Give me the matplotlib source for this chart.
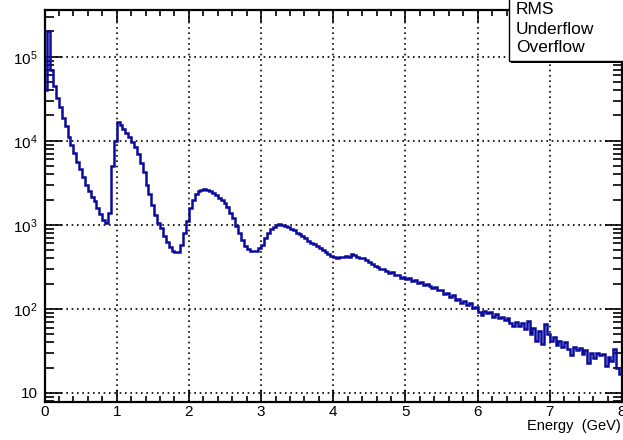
import numpy as np
import matplotlib
matplotlib.use("Agg")
import matplotlib.pyplot as plt
from matplotlib.ticker import FixedLocator, FuncFormatter, LogLocator, MultipleLocator, NullFormatter
from matplotlib.patches import Rectangle

# ---------------- data ----------------
x_min, x_max = 0.0, 8.0
y_min, y_max = 7.8, 3.6e5
counts = [
    40000, 200000, 70000, 45000, 32000, 25000, 18600, 14800, 11200, 8900,
    7100, 5600, 4600, 3700, 3000, 2500, 2140, 1900, 1600, 1350,
    1150, 1050, 1400, 5000, 10000, 16600, 15500, 13800, 12300, 11000,
    9800, 8500, 6900, 5500, 4200, 3000, 2300, 1700, 1300, 1050,
    910, 740, 630, 550, 490, 480, 480, 575, 800, 1120,
    1580, 2000, 2300, 2500, 2630, 2700, 2630, 2500, 2400, 2240,
    2100, 1950, 1820, 1620, 1400, 1200, 980, 800, 660, 560,
    510, 490, 490, 490, 525, 575, 690, 800, 890, 955,
    1000, 1020, 1000, 980, 930, 890, 870, 810, 780, 740,
    690, 645, 615, 590, 560, 525, 500, 480, 455, 425,
    410, 400, 415, 410, 425, 415, 455, 435, 410, 400,
    400, 380, 365, 345, 325, 315, 295, 300, 280, 270,
    275, 250, 255, 235, 240, 225, 230, 215, 220, 205,
    210, 195, 200, 185, 178, 182, 166, 170, 151, 155,
    138, 145, 126, 132, 117, 123, 112, 117, 102, 105,
    93, 85, 95, 89, 93, 81, 87, 78, 81, 74,
    78, 68, 62, 69, 63, 68, 58, 71, 50, 60,
    42, 55, 38, 66, 50, 42, 46, 37, 42, 35,
    40, 33, 28, 35, 32, 34, 29, 32, 23, 30,
    26, 30, 28, 29, 21, 27, 24, 33, 20, 17,
]
x_major = [0, 1, 2, 3, 4, 5, 6, 7, 8]
y_major = [10, 100, 1000, 10000, 100000]
stats_labels = ["RMS", "Underflow", "Overflow"]
x_title = "Energy  (GeV)"

# ---------------- style ----------------
plt.rcParams['font.family'] = ['Liberation Sans', 'DejaVu Sans']
plt.rcParams['mathtext.default'] = 'regular'

W, H = 623, 440
fig = plt.figure(figsize=(W / 100, H / 100), dpi=100)
ax_l, ax_r, ax_b, ax_t = 44.5, 622, 402, 10
ax = fig.add_axes([ax_l / W, (H - ax_b) / H, (ax_r - ax_l) / W, (ax_b - ax_t) / H])

edges = np.linspace(x_min, x_max, len(counts) + 1)
ax.stairs(counts, edges, baseline=None, color='#0a0a9c', lw=1.8, zorder=3)

ax.set_yscale('log')
ax.set_xlim(x_min, x_max)
ax.set_ylim(y_min, y_max)

ax.xaxis.set_major_locator(FixedLocator(x_major))
ax.xaxis.set_minor_locator(MultipleLocator(0.2))
ax.yaxis.set_major_locator(FixedLocator(y_major))
ax.yaxis.set_minor_locator(LogLocator(base=10, subs=np.arange(2, 10)))
ax.yaxis.set_minor_formatter(NullFormatter())


def yfmt(v, pos):
    e = int(round(np.log10(v)))
    if e == 1:
        return '10'
    return r'$10^{%d}$' % e


ax.yaxis.set_major_formatter(FuncFormatter(yfmt))
ax.xaxis.set_major_formatter(FuncFormatter(lambda v, p: '%d' % v))

ax.tick_params(axis='both', which='both', direction='in', top=True, right=True, width=1.2)
ax.tick_params(axis='x', which='major', length=8.6, labelsize=11, pad=2.5)
ax.tick_params(axis='x', which='minor', length=4.3)
ax.tick_params(axis='y', which='major', length=12, labelsize=11, pad=5)
ax.tick_params(axis='y', which='minor', length=6.5)

for s in ax.spines.values():
    s.set_linewidth(1.6)
    s.set_color('black')

ax.grid(True, which='major', color='black', linestyle=(0, (1, 2.2)), lw=1.2)

fig.text(621 / W, 1 - 426 / H, x_title, ha='right', va='center', fontsize=10.5)

# stats box (partially outside the figure)
bx0, by1 = 509, 61
shadow = Rectangle(((bx0 + 2) / W, 1 - (by1 + 2) / H), 200 / W, (by1 + 20) / H,
                   transform=fig.transFigure, facecolor='black', edgecolor='none', zorder=9)
box = Rectangle((bx0 / W, 1 - by1 / H), 200 / W, (by1 + 20) / H,
                transform=fig.transFigure, facecolor='white', edgecolor='black', lw=1.0, zorder=10)
fig.patches.extend([shadow, box])
for lab, yc in zip(stats_labels, [10, 29, 47]):
    fig.text(516 / W, 1 - yc / H, lab, ha='left', va='center', fontsize=12.5, zorder=11)

fig.savefig('out.png', dpi=100)
